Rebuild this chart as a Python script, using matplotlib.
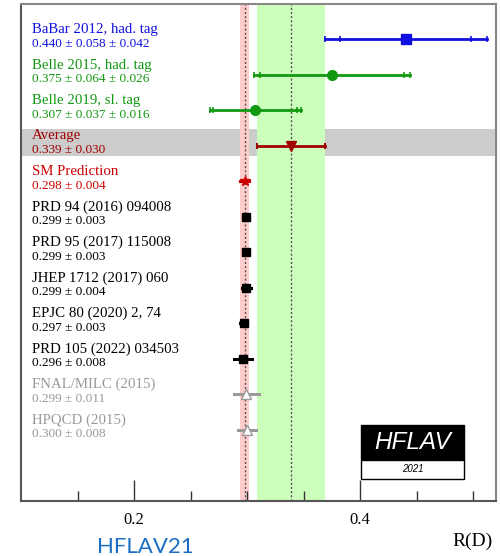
import numpy as np
import matplotlib
matplotlib.use("Agg")
import matplotlib.pyplot as plt
from matplotlib.patches import Rectangle

# measurements: central value, stat, syst
meas_names = ["BaBar 2012, had. tag", "Belle 2015, had. tag", "Belle 2019, sl. tag"]
meas_vals = [0.440, 0.375, 0.307]
meas_stat = [0.058, 0.064, 0.037]
meas_syst = [0.042, 0.026, 0.016]
meas_colors = ["#1010e0", "#119911", "#119911"]
meas_markers = ["s", "o", "o"]

avg_val = 0.339
avg_err = 0.030

# theory predictions
th_names = ["SM Prediction", "PRD 94 (2016) 094008", "PRD 95 (2017) 115008",
            "JHEP 1712 (2017) 060", "EPJC 80 (2020) 2, 74", "PRD 105 (2022) 034503",
            "FNAL/MILC (2015)", "HPQCD (2015)"]
th_vals = [0.298, 0.299, 0.299, 0.299, 0.297, 0.296, 0.299, 0.300]
th_errs = [0.004, 0.003, 0.003, 0.004, 0.003, 0.008, 0.011, 0.008]
th_colors = ["#cc0000", "black", "black", "black", "black", "black", "#999999", "#999999"]
th_markers = ["*", "s", "s", "s", "s", "s", "^", "^"]

SERIF = ["Liberation Serif", "DejaVu Serif"]
AVG_COLOR = "#a00000"

fig = plt.figure(figsize=(5.0, 5.56), dpi=100)
ax = fig.add_axes([0.042, 0.0995, 0.950, 0.8933])

n_rows = len(meas_names) + 1 + len(th_names)
ax.set_xlim(0.10, 0.52)
ax.set_ylim(n_rows + 2, 0)

# bands
ax.axhspan(3.52, 4.28, color="#cccccc", lw=0, zorder=0)
ax.axvspan(avg_val - avg_err, avg_val + avg_err, color="#ccffbb", lw=0, zorder=1)
ax.axvspan(th_vals[0] - th_errs[0], th_vals[0] + th_errs[0], color="#ffcccc", lw=0, zorder=1)
ax.axvline(avg_val, color="#555555", ls=(0, (1.5, 1.5)), lw=1.0, zorder=2)
ax.axvline(th_vals[0], color="#555555", ls=(0, (1.5, 1.5)), lw=1.0, zorder=2)


def entry_text(row, name, value_str, color):
    tr = ax.get_yaxis_transform()
    ax.text(0.023, row - 0.28, name, transform=tr, color=color, family=SERIF,
            fontsize=10.7, va="center", ha="left")
    ax.text(0.023, row + 0.12, value_str, transform=tr, color=color, family=SERIF,
            fontsize=9.5, va="center", ha="left")


row = 1
for name, v, st, sy, c, m in zip(meas_names, meas_vals, meas_stat, meas_syst,
                                 meas_colors, meas_markers):
    tot = np.hypot(st, sy)
    ax.plot([v - tot, v + tot], [row, row], color=c, lw=2, zorder=3)
    ax.plot([v - tot, v - st, v + st, v + tot], [row] * 4, ls="none", marker="|",
            ms=4, mew=1.2, color=c, zorder=3)
    ax.plot(v, row, marker=m, ms=7, color=c, zorder=4)
    entry_text(row, name, f"{v:.3f} ± {st:.3f} ± {sy:.3f}", c)
    row += 1

# average
ax.plot([avg_val - avg_err, avg_val + avg_err], [row, row], color=AVG_COLOR, lw=2, zorder=3)
ax.plot([avg_val - avg_err, avg_val + avg_err], [row, row], ls="none", marker="|",
        ms=5, mew=1.5, color=AVG_COLOR, zorder=3)
ax.plot(avg_val, row, marker="v", ms=7, color=AVG_COLOR, zorder=4)
entry_text(row, "Average", f"{avg_val:.3f} ± {avg_err:.3f}", AVG_COLOR)
row += 1

for name, v, e, c, m in zip(th_names, th_vals, th_errs, th_colors, th_markers):
    ax.plot([v - e, v + e], [row, row], color=c, lw=2.2, zorder=3)
    if m == "^":
        ax.plot(v, row, marker=m, ms=6.5, mfc="white", mec=c, mew=1.0, zorder=4)
    elif m == "*":
        ax.plot(v, row, marker=m, ms=7.5, color=c, zorder=4)
    else:
        ax.plot(v, row, marker=m, ms=6, color=c, zorder=4)
    entry_text(row, name, f"{v:.3f} ± {e:.3f}", c)
    row += 1

# axes styling
for side in ["left", "bottom"]:
    ax.spines[side].set_color("#555555")
    ax.spines[side].set_linewidth(1.5)
for side in ["top", "right"]:
    ax.spines[side].set_color("#888888")
    ax.spines[side].set_linewidth(1.5)
ax.set_yticks([])
ax.set_xticks([0.2, 0.4])
ax.set_xticks(np.arange(0.15, 0.52, 0.05), minor=True)
ax.tick_params(axis="x", which="major", direction="in", length=15, width=1.0,
               color="#333333", labelsize=12, pad=8)
ax.tick_params(axis="x", which="minor", direction="in", length=7, width=1.0,
               color="#333333")
ax.set_xticklabels(["0.2", "0.4"], family=SERIF)
for lbl in ax.get_xticklabels():
    lbl.set_family(SERIF)

fig.text(0.986, 0.026, "R(D)", family=SERIF, fontsize=14, ha="right", va="center")
fig.text(0.29, 0.017, "HFLAV21", family=["Lato", "DejaVu Sans"], fontsize=16,
         color="#1a6fc4", ha="center", va="center")

# HFLAV logo box
ax.add_patch(Rectangle((0.715, 0.082), 0.218, 0.070, transform=ax.transAxes,
                       facecolor="black", edgecolor="black", lw=1, zorder=5))
ax.add_patch(Rectangle((0.715, 0.044), 0.218, 0.038, transform=ax.transAxes,
                       facecolor="white", edgecolor="black", lw=1, zorder=5))
ax.text(0.824, 0.117, "HFLAV", transform=ax.transAxes, color="white", fontsize=17.5,
        style="italic", family=["Liberation Sans", "DejaVu Sans"], ha="center",
        va="center", zorder=6)
ax.text(0.824, 0.063, "2021", transform=ax.transAxes, color="black", fontsize=7,
        style="italic", family=["Liberation Sans", "DejaVu Sans"], ha="center",
        va="center", zorder=6)

fig.savefig("out.png", dpi=100)
